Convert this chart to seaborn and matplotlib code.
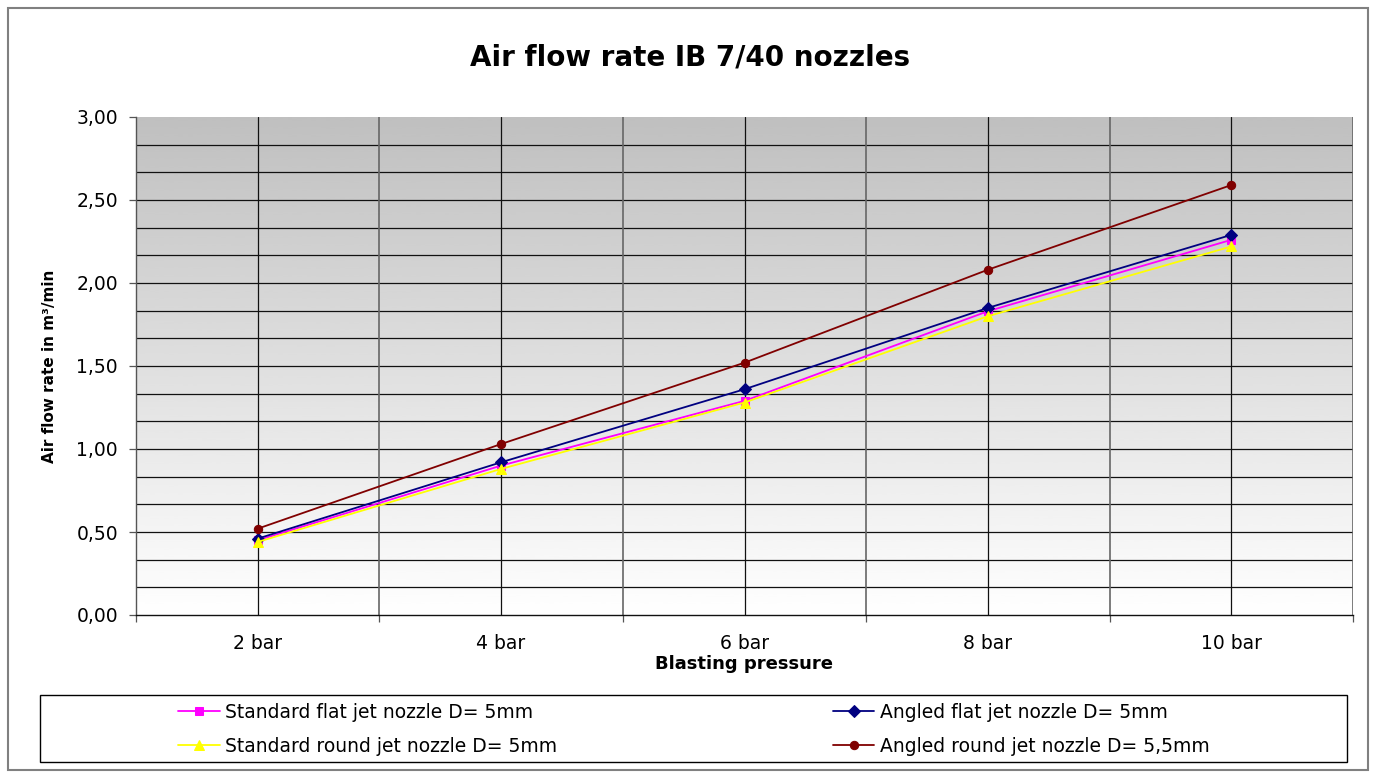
import numpy as np
import matplotlib
matplotlib.use('Agg')
import matplotlib.pyplot as plt
from matplotlib.patches import Rectangle
from matplotlib.ticker import MultipleLocator, FuncFormatter
import seaborn as sns

# data
pressures = ["2 bar", "4 bar", "6 bar", "8 bar", "10 bar"]
std_flat = [0.45, 0.90, 1.29, 1.83, 2.26]
angled_flat = [0.46, 0.92, 1.36, 1.85, 2.29]
std_round = [0.44, 0.88, 1.28, 1.80, 2.22]
angled_round = [0.52, 1.03, 1.52, 2.08, 2.59]

series = [
    ("Standard flat jet nozzle D= 5mm", std_flat, "#FF00FF", "s", 6),
    ("Angled flat jet nozzle D= 5mm", angled_flat, "#000080", "D", 6),
    ("Standard round jet nozzle D= 5mm", std_round, "#FFFF00", "^", 7),
    ("Angled round jet nozzle D= 5,5mm", angled_round, "#800000", "o", 6),
]

sns.set_theme(style="white")
plt.rcParams['font.family'] = ['DejaVu Sans']
plt.rcParams['text.color'] = 'black'
plt.rcParams['axes.labelcolor'] = 'black'
plt.rcParams['xtick.color'] = 'black'
plt.rcParams['ytick.color'] = 'black'

fig = plt.figure(figsize=(13.76, 7.76), dpi=100)
fig.patch.set_facecolor("white")
ax = fig.add_axes([136 / 1376, 1 - 615 / 776, (1353 - 136) / 1376, (615 - 117) / 776])

x = np.arange(len(pressures))
xmin, xmax = -0.5, len(pressures) - 0.5
ymin, ymax = 0.0, 3.0

# grey (top) to white (bottom) gradient behind the plot
grad = np.linspace(1.0, 0.75, 256).reshape(-1, 1)
ax.imshow(grad, extent=[xmin, xmax, ymin, ymax], origin="lower", cmap="gray",
          vmin=0, vmax=1, aspect="auto", zorder=0, interpolation="bicubic")

for label, vals, color, marker, ms in series:
    sns.lineplot(x=x, y=vals, ax=ax, color=color, marker=marker, markersize=ms,
                 markeredgecolor=color, linewidth=1.3, label=label, zorder=3)

ax.set_xlim(xmin, xmax)
ax.set_ylim(ymin, ymax)

ax.set_xticks(x)
ax.set_xticklabels(pressures)
ax.set_xticks(np.arange(xmin, xmax + 0.01, 1), minor=True)
ax.yaxis.set_major_locator(MultipleLocator(0.5))
ax.yaxis.set_minor_locator(MultipleLocator(1 / 6))
ax.yaxis.set_major_formatter(FuncFormatter(lambda v, p: f"{v:.2f}".replace(".", ",")))

ax.tick_params(axis="x", which="major", length=0, pad=14, labelsize=13.5)
ax.tick_params(axis="x", which="minor", length=5, width=0.9, direction="out", color="#555555", bottom=True)
ax.tick_params(axis="y", which="major", length=5, width=0.9, direction="out", pad=8,
               labelsize=13.5, color="#555555", left=True)
ax.tick_params(axis="y", which="minor", length=0)

ax.grid(False)
for yv in np.arange(1, 18) / 6:
    ax.axhline(yv, color="#111111", linewidth=0.9, zorder=1)
for xv in x:
    ax.axvline(xv, color="#111111", linewidth=0.9, zorder=1)
for xv in np.arange(xmin + 1, xmax + 0.01, 1):
    ax.axvline(xv, color="#666666", linewidth=1.2, zorder=1)

for side in ["top", "right"]:
    ax.spines[side].set_visible(False)
ax.spines["left"].set_color("#555555")
ax.spines["bottom"].set_color("#111111")
ax.spines["left"].set_linewidth(1.0)
ax.spines["bottom"].set_linewidth(1.0)

ax.set_xlabel("Blasting pressure", fontsize=13, fontweight="bold", labelpad=1)
ax.set_ylabel("Air flow rate in m³/min", fontsize=11, fontweight="bold", labelpad=14)

fig.text(690 / 1376, 1 - 57 / 776, "Air flow rate IB 7/40 nozzles", ha="center", va="center",
         fontsize=20, fontweight="bold")

# legend, filled row-wise like the original
h, l = ax.get_legend_handles_labels()
ax.get_legend().remove()
order = [0, 2, 1, 3]
fig.legend([h[i] for i in order], [l[i] for i in order], ncol=2, frameon=False,
           loc="center", bbox_to_anchor=(694 / 1376, 1 - 729 / 776),
           fontsize=13.5, handlelength=2.2, handletextpad=0.3, columnspacing=14.7,
           labelspacing=0.8)

fig.patches.append(Rectangle((40 / 1376, 1 - 762 / 776), (1347 - 40) / 1376, 67 / 776,
                             transform=fig.transFigure, fill=False, edgecolor="black",
                             linewidth=1.0))
fig.patches.append(Rectangle((8 / 1376, 1 - 770 / 776), (1368 - 8) / 1376, 762 / 776,
                             transform=fig.transFigure, fill=False, edgecolor="#808080",
                             linewidth=1.5))

fig.savefig("out.png", dpi=100)
